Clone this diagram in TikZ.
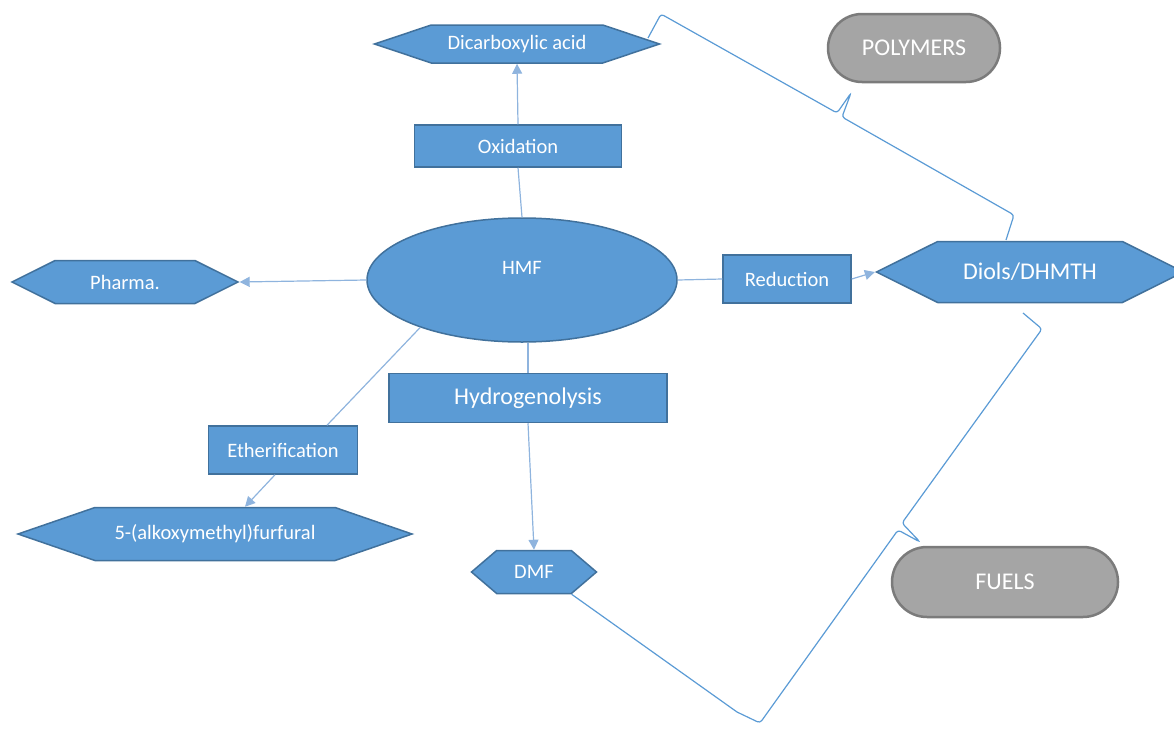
\documentclass[tikz,border=0pt]{standalone}
\usepackage{fontspec}
\setmainfont{Carlito}
\usetikzlibrary{shapes.geometric,shapes.symbols,shapes.misc,arrows.meta}

\definecolor{hmfblue}{HTML}{5B9BD5}
\definecolor{hmfedge}{HTML}{41719C}
\definecolor{linkblue}{HTML}{8FB4DE}
\definecolor{grpfill}{HTML}{A5A5A5}
\definecolor{grpedge}{HTML}{7B7B7B}

\newcommand{\smalltxt}{\fontsize{20.5}{24}\selectfont}
\newcommand{\bigtxt}{\fontsize{24}{28}\selectfont}

\tikzset{
  prod/.style={signal, signal to=west and east, fill=hmfblue, draw=hmfedge,
    line width=1.5pt, text=white, font=\smalltxt, inner sep=0pt},
  proc/.style={rectangle, fill=hmfblue, draw=hmfedge, line width=1.5pt,
    text=white, font=\smalltxt, inner sep=0pt},
  grp/.style={rounded rectangle, fill=grpfill, draw=grpedge, line width=2.5pt,
    text=white, font=\bigtxt, inner sep=0pt},
  link/.style={draw=linkblue, line width=1.2pt},
  arr/.style={link, -{Triangle[length=10pt,width=10pt]}},
  bracket/.style={draw=hmfblue, line width=1.2pt, rounded corners=3pt}
}

\begin{document}
\begin{tikzpicture}[x=1pt,y=-1pt]
\useasboundingbox (0,0) rectangle (1174,728);

% HMF in the middle
\node[ellipse, fill=hmfblue, draw=hmfedge, line width=1.5pt, minimum width=310pt,
  minimum height=124pt, text=white, font=\smalltxt, text depth=24pt] (hmf) at (522,280) {HMF};

% routes
\node[proc, minimum width=207pt, minimum height=42pt] (oxid) at (518,146) {Oxidation};
\node[proc, minimum width=149pt, minimum height=48pt] (ether) at (283,450) {Etherification};
\node[proc, minimum width=278pt, minimum height=49pt, font=\bigtxt] (hydro) at (528,398) {Hydrogenolysis};
\node[proc, minimum width=128pt, minimum height=48pt] (redu) at (787,279) {Reduction};

% products
\node[prod, minimum width=285pt, minimum height=38pt, signal pointer angle=37] (dicarb) at (517,44) {Dicarboxylic acid};
\node[prod, minimum width=226pt, minimum height=43pt, signal pointer angle=53] (pharma) at (125,282) {Pharma.};
\node[prod, minimum width=394pt, minimum height=53pt, signal pointer angle=38] (alk) at (215,534) {5-(alkoxymethyl)furfural};
\node[prod, minimum width=125pt, minimum height=43pt, signal pointer angle=81] (dmf) at (534,572) {DMF};
\node[prod, minimum width=307pt, minimum height=61pt, signal pointer angle=53, font=\bigtxt] (diols) at (1030,272) {Diols/DHMTH};

% groups
\node[grp, minimum width=172pt, minimum height=68pt] (poly) at (914,48) {POLYMERS};
\node[grp, minimum width=226pt, minimum height=70pt] (fuels) at (1005,582) {FUELS};

% connectors
\draw[link] (hmf.north) -- (oxid.south);
\draw[arr] (oxid.north) -- (dicarb.south);
\draw[arr] (hmf.west) -- (pharma.east);
\draw[link] (hmf.205) -- ([xshift=44pt]ether.north);
\draw[arr] ([xshift=-8pt]ether.south) -- ([xshift=30pt]alk.north);
\draw[link] (hydro.north |- hmf.south) -- (hydro.north);
\draw[arr] (hydro.south) -- (dmf.north);
\draw[link] (hmf.east) -- (redu.west);
\draw[arr] (redu.east) -- (diols.west);

% braces
\coordinate (polyA) at (648,38);
\coordinate (polyB) at (1006,240);
\coordinate (fuelA) at (1023,313);
\coordinate (fuelB) at (737,712);
\draw[bracket] (polyA) -- (661,14) -- (837,113) -- (851,93) -- (842,117) -- (1014,215) -- (polyB);
\draw[bracket] (fuelA) -- (1042,329) -- (902,523) -- (920,542) -- (898,530) -- (760,723) -- (fuelB);
\draw[draw=hmfblue, line width=1.2pt] (dmf.south east) -- (fuelB);
\end{tikzpicture}
\end{document}
